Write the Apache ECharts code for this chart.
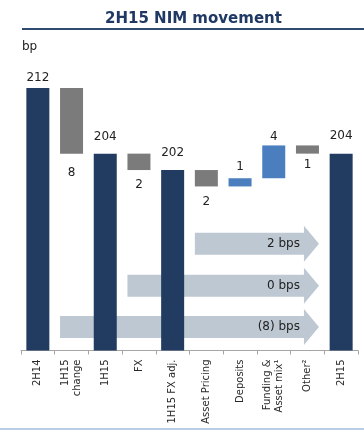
<!DOCTYPE html>
<html>
<head>
<meta charset="utf-8">
<script src="https://cdn.jsdelivr.net/npm/echarts@6/dist/echarts.min.js"></script>
<style>html,body{margin:0;padding:0;background:#fff;}#c{width:364px;height:431px;background:#fff;}</style>
</head>
<body>
<div id="c"></div>
<script>
var categories = ['2H14', '1H15\nchange', '1H15', 'FX', '1H15 FX adj.', 'Asset Pricing', 'Deposits', 'Funding &\nAsset mix\u00B9', 'Other\u00B2', '2H15'];
var values = [212, -8, 204, -2, 202, -2, 1, 4, -1, 204];
var kinds = ['total', 'delta', 'total', 'delta', 'total', 'delta', 'delta', 'delta', 'delta', 'total'];
var arrowFrom = [5, 3, 1];
var arrowTo = [8, 8, 8];
var arrowLabels = ['2 bps', '0 bps', '(8) bps'];

// layout / style settings
var AXIS_MIN = 180;
var NAVY = '#213B61', GREY = '#7B7B7B', BLUE = '#4A7EBE', ARROW = '#BEC8D2';
var labelGap = [4, 13, 11, 8.5, 11, 9, 5.5, 3, 5, 11.5];
var arrowLevels = [193, 187.9, 182.85];

var baseData = [], barData = [];
var running = 0;
for (var i = 0; i < values.length; i++) {
  var v = values[i];
  if (kinds[i] === 'total') {
    running = v;
    baseData.push(AXIS_MIN);
    barData.push({value: v - AXIS_MIN, itemStyle: {color: NAVY},
      label: {show: true, position: 'top', distance: labelGap[i], formatter: String(v)}});
  } else {
    var lo = Math.min(running, running + v);
    baseData.push(lo);
    barData.push({value: Math.abs(v), itemStyle: {color: v < 0 ? GREY : BLUE},
      label: {show: true, position: v < 0 ? 'bottom' : 'top', distance: labelGap[i], formatter: String(Math.abs(v))}});
    running += v;
  }
}

var arrowData = [];
for (var k = 0; k < arrowFrom.length; k++) arrowData.push([arrowFrom[k], arrowTo[k], arrowLevels[k], k]);

var halfBar = 11.5, bodyH = 22, headH = 36, headL = 15;

var chart = echarts.init(document.getElementById('c'));
var option = {
  animation: false,
  textStyle: {fontFamily: 'DejaVu Sans'},
  title: {
    text: '2H15 NIM movement', left: 100, top: 7,
    textStyle: {fontFamily: 'DejaVu Sans', fontSize: 15, fontWeight: 'bold', color: '#1F3864'}
  },
  grid: {left: 21, right: 6, top: 63.4, bottom: 80.5, containLabel: false},
  xAxis: {
    type: 'category', data: categories,
    axisLine: {lineStyle: {color: '#A6A6A6', width: 1}},
    axisTick: {show: true, length: 4, lineStyle: {color: '#A6A6A6'}},
    axisLabel: {interval: 0, rotate: 90, margin: 9, fontSize: 10, color: '#2a2a2a', fontFamily: 'DejaVu Sans', lineHeight: 12}
  },
  yAxis: {type: 'value', min: AXIS_MIN, max: 215, show: false, splitLine: {show: false}},
  graphic: {elements: [
    {type: 'rect', shape: {x: 22, y: 28, width: 342, height: 2}, style: {fill: '#2E4A6E'}},
    {type: 'text', x: 22, y: 47, style: {text: 'bp', fontSize: 12, fill: '#222', fontFamily: 'DejaVu Sans', verticalAlign: 'middle'}},
    {type: 'rect', shape: {x: 0, y: 428, width: 364, height: 2}, style: {fill: '#B9CDE5'}}
  ]},
  series: [
    {
      type: 'custom', zlevel: 0, z: 1, silent: true, data: arrowData,
      renderItem: function (params, api) {
        var p0 = api.coord([api.value(0), api.value(2)]);
        var p1 = api.coord([api.value(1), api.value(2)]);
        var x0 = p0[0] - halfBar, tip = p1[0] + halfBar, cy = p0[1], hx = tip - headL;
        return {
          type: 'group',
          children: [
            {type: 'polygon', shape: {points: [[x0, cy - bodyH / 2], [hx, cy - bodyH / 2], [hx, cy - headH / 2], [tip, cy], [hx, cy + headH / 2], [hx, cy + bodyH / 2], [x0, cy + bodyH / 2]]},
              style: {fill: ARROW}},
            {type: 'text', x: hx - 4, y: cy,
              style: {text: arrowLabels[api.value(3)], fontSize: 12, fill: '#222', fontFamily: 'DejaVu Sans', align: 'right', verticalAlign: 'middle'}}
          ]
        };
      }
    },
    {type: 'bar', stack: 'w', data: baseData, itemStyle: {color: 'rgba(0,0,0,0)'}, barWidth: 23, silent: true, zlevel: 1, z: 3},
    {type: 'bar', stack: 'w', data: barData, barWidth: 23, zlevel: 1, z: 4,
      label: {fontSize: 12, color: '#222', fontFamily: 'DejaVu Sans'}}
  ]
};
chart.setOption(option);
</script>
</body>
</html>
